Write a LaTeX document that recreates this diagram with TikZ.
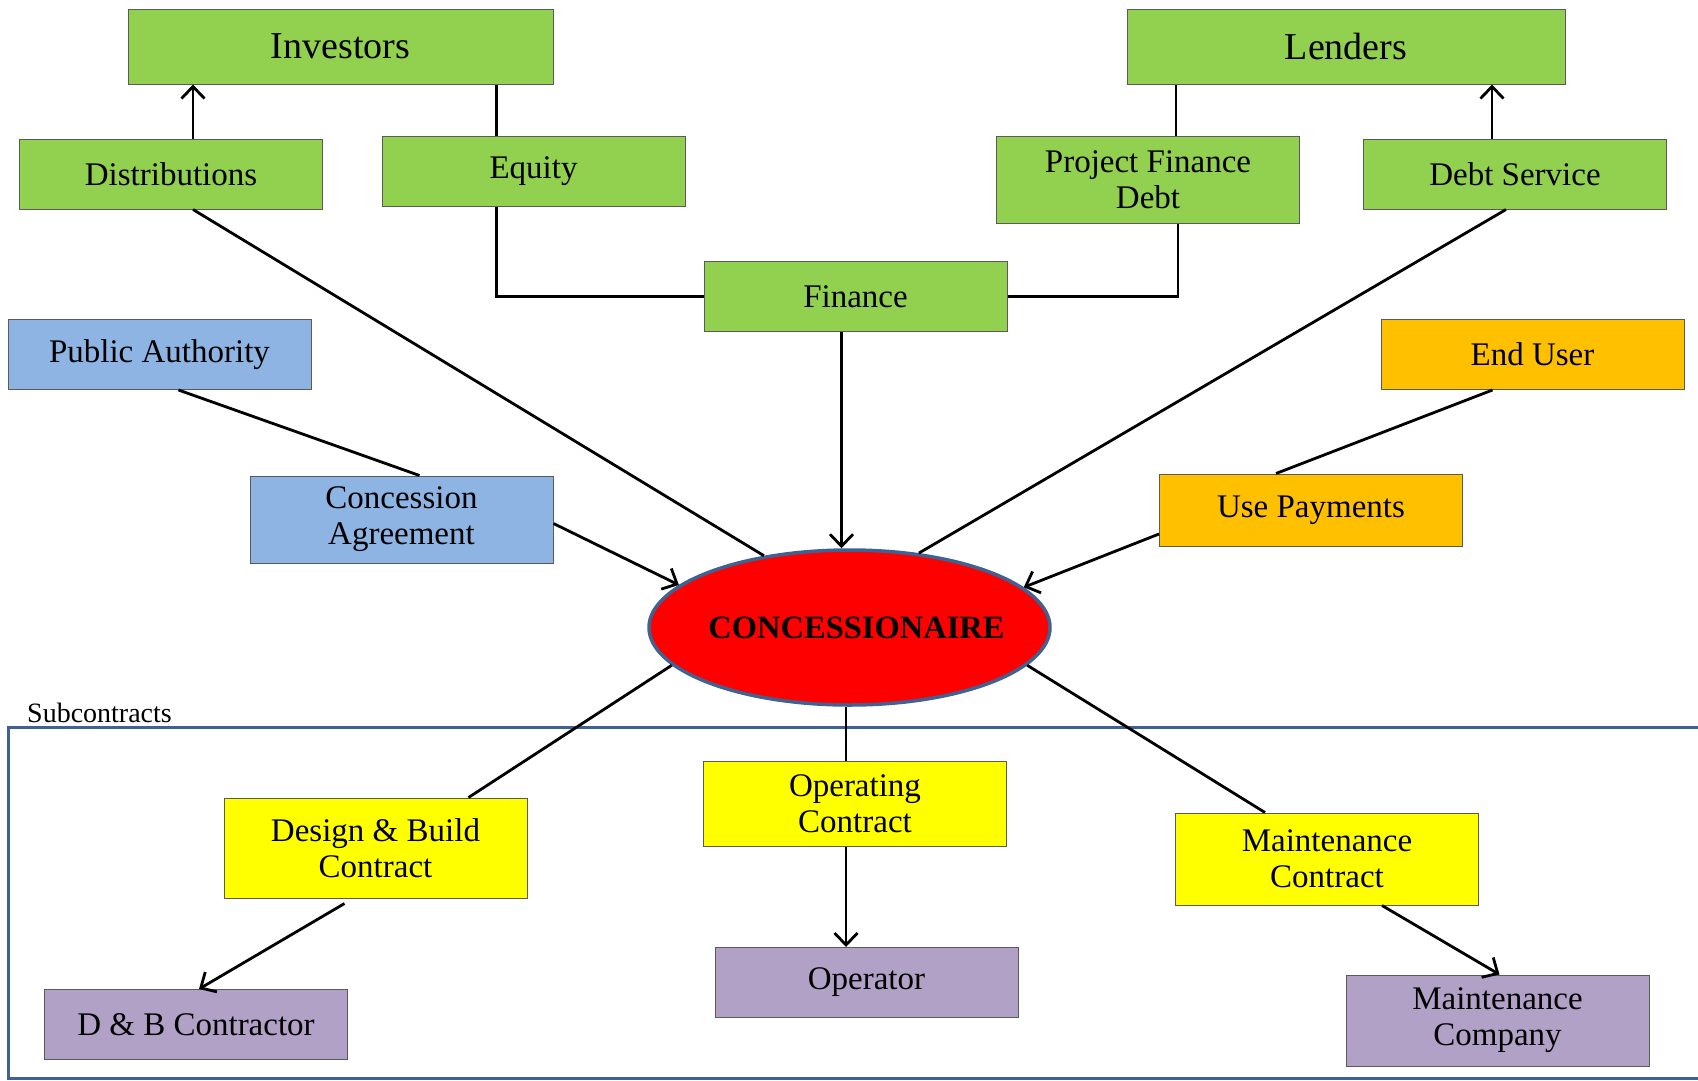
\documentclass[tikz,border=0pt]{standalone}
\usepackage{fontspec}
\setmainfont{Liberation Serif}
\usepackage{xcolor}
\usetikzlibrary{arrows.meta, positioning, shapes.geometric}
\definecolor{fundgreen}{HTML}{92D050}
\definecolor{authblue}{HTML}{8EB4E3}
\definecolor{useorange}{HTML}{FFC000}
\definecolor{contyellow}{HTML}{FFFF00}
\definecolor{partpurple}{HTML}{B2A1C7}
\definecolor{edgeblue}{HTML}{3F6292}
\definecolor{boxline}{HTML}{5A5A5A}

\begin{document}
\begin{tikzpicture}[
  x=1pt, y=-1pt,
  box/.style={rectangle, draw=boxline, line width=1pt, minimum width=303pt, minimum height=70pt, align=center, inner sep=2pt, font=\fontsize{33}{36}\selectfont},
  fund/.style={box, fill=fundgreen},
  party/.style={fund, minimum height=75pt, font=\fontsize{38}{40}\selectfont},
  auth/.style={box, fill=authblue},
  user/.style={box, fill=useorange},
  contract/.style={box, fill=contyellow},
  operator/.style={box, fill=partpurple},
  hub/.style={ellipse, draw=edgeblue, line width=3.5pt, fill=red, inner xsep=-20pt, minimum width=401pt, minimum height=155pt, font=\fontsize{32.5}{34}\selectfont\bfseries},
  link/.style={line width=2.8pt},
  arrow/.style={link, -{Straight Barb[length=12pt, width=23pt, line width=2.8pt]}},
  frame/.style={draw=edgeblue, line width=3pt}
]
  \useasboundingbox (0,0) rectangle (1698,1080);

  \node[party, minimum width=425pt] (inv) at (340.5,46.5) {Investors};
  \node[party, minimum width=438pt] (lend) at (1346,46.5) {Lenders};
  \node[fund] (dist) at (171,174) {Distributions};
  \node[fund] (eq) at (533.5,171.5) {Equity};
  \node[fund, minimum height=87pt] (pfd) at (1148,179.5) {Project Finance\\Debt};
  \node[fund] (ds) at (1515,174) {Debt Service};
  \node[fund] (fin) at (855.5,296.5) {Finance};
  \node[auth] (pa) at (159.5,354.5) {Public Authority};
  \node[auth, minimum height=87pt] (ca) at (401.5,519.5) {Concession\\Agreement};
  \node[user] (eu) at (1532.5,354.5) {End User};
  \node[user, minimum height=72pt] (up) at (1311,510) {Use Payments};
  \node[hub] (conc) at (849.5,627.5) {\hspace*{14pt}CONCESSIONAIRE};

  \node[anchor=west, inner sep=0pt, font=\fontsize{28}{30}\selectfont] (sub) at (27,713) {Subcontracts};
  \draw[frame] (1700,727) -- (8,727) -- (8,1078) -- (1700,1078);

  \node[contract, minimum height=100pt] (dbc) at (375.5,848) {Design \& Build\\Contract};
  \node[contract, minimum height=85pt] (opc) at (855,803.5) {Operating\\Contract};
  \node[contract, minimum height=92pt] (mc) at (1327,859) {Maintenance\\Contract};
  \node[operator] (dbctr) at (196,1024.5) {D \& B Contractor};
  \node[operator] (oper) at (866.5,982.5) {Operator};
  \node[operator, minimum height=91pt] (mco) at (1497.5,1020.5) {Maintenance\\Company};

  \draw[arrow] ([xshift=22pt]dist.north) -- ([xshift=22pt]dist.north |- inv.south);
  \draw[link] ([xshift=-37pt]eq.north) -- ([xshift=-37pt]eq.north |- inv.south);
  \draw[link] ([xshift=-37pt]eq.south) |- (fin.west);
  \draw[link] ([xshift=28pt]pfd.north) -- ([xshift=28pt]pfd.north |- lend.south);
  \draw[link] ([xshift=30pt]pfd.south) |- (fin.east);
  \draw[arrow] ([xshift=-23pt]ds.north) -- ([xshift=-23pt]ds.north |- lend.south);
  \draw[arrow] ([xshift=-14pt]fin.south) -- ([xshift=-14pt]fin.south |- conc.north);
  \draw[link] ([xshift=22pt]dist.south) -- (conc.140);
  \draw[link] ([xshift=-9pt]ds.south) -- (conc.47);
  \draw[link] ([xshift=19pt]pa.south) -- ([xshift=18pt]ca.north);
  \draw[arrow] ([yshift=-4pt]ca.east) -- (conc.166);
  \draw[link] ([xshift=-40pt]eu.south) -- ([xshift=-35pt]up.north);
  \draw[arrow] ([yshift=-24pt]up.west) -- (conc.13);
  \draw[link] (conc.192) -- ([xshift=93pt]dbc.north);
  \draw[link] ([xshift=-9pt]opc.north |- conc.south) -- ([xshift=-9pt]opc.north);
  \draw[link] (conc.348) -- ([xshift=-62pt]mc.north);
  \draw[arrow] ([xshift=-31pt,yshift=-5pt]dbc.south) -- ([xshift=3pt]dbctr.north);
  \draw[arrow] ([xshift=-9pt]opc.south) -- ([xshift=-9pt]opc.south |- oper.north);
  \draw[arrow] ([xshift=55pt]mc.south) -- ([xshift=2pt]mco.north);
\end{tikzpicture}
\end{document}
